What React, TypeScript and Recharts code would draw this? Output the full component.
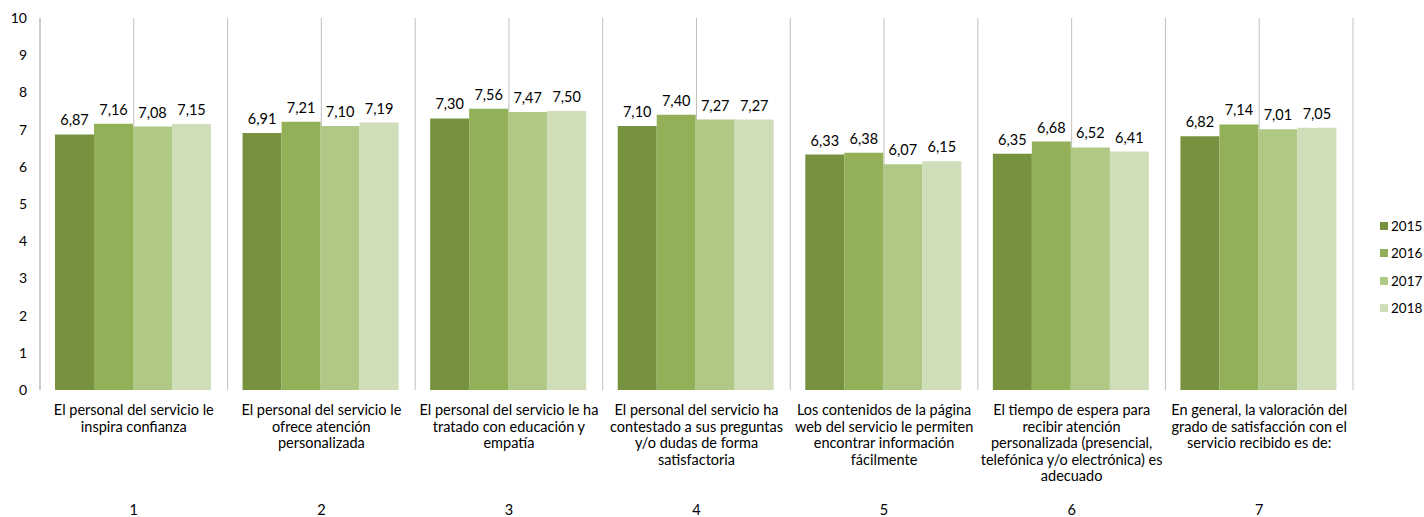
import { BarChart, Bar, XAxis, YAxis, CartesianGrid, LabelList } from 'recharts';

const categories = [
  'El personal del servicio le\ninspira confianza',
  'El personal del servicio le\nofrece atención\npersonalizada',
  'El personal del servicio le ha\ntratado con educación y\nempatía',
  'El personal del servicio ha\ncontestado a sus preguntas\ny/o dudas de forma\nsatisfactoria',
  'Los contenidos de la página\nweb del servicio le permiten\nencontrar información\nfácilmente',
  'El tiempo de espera para\nrecibir atención\npersonalizada (presencial,\ntelefónica y/o electrónica) es\nadecuado',
  'En general, la valoración del\ngrado de satisfacción con el\nservicio recibido es de:',
];
const groupNumbers = ['1', '2', '3', '4', '5', '6', '7'];

const v2015 = [6.87, 6.91, 7.3, 7.1, 6.33, 6.35, 6.82];
const v2016 = [7.16, 7.21, 7.56, 7.4, 6.38, 6.68, 7.14];
const v2017 = [7.08, 7.1, 7.47, 7.27, 6.07, 6.52, 7.01];
const v2018 = [7.15, 7.19, 7.5, 7.27, 6.15, 6.41, 7.05];

const yTicks = [0, 1, 2, 3, 4, 5, 6, 7, 8, 9, 10];

const series = [
  { key: 'y2015', name: '2015', color: '#77923f' },
  { key: 'y2016', name: '2016', color: '#92b058' },
  { key: 'y2017', name: '2017', color: '#afc886' },
  { key: 'y2018', name: '2018', color: '#cfddb8' },
];

const data = categories.map((c, i) => ({
  idx: i,
  y2015: v2015[i],
  y2016: v2016[i],
  y2017: v2017[i],
  y2018: v2018[i],
}));

const FONT = 'Lato, "Open Sans", sans-serif';

const fmt = (v: any) => Number(v).toFixed(2).replace('.', ',');

const CategoryTick = (props: any) => {
  const { x, y, payload } = props;
  const i = payload.index;
  const lines = categories[i].split('\n');
  return (
    <g>
      <text x={x} y={y + 25} textAnchor="middle" fontSize={14.5} fill="#000" fontFamily={FONT}>
        {lines.map((l, j) => (
          <tspan key={j} x={x} dy={j === 0 ? 0 : 16.5}>{l}</tspan>
        ))}
      </text>
      <text x={x} y={y + 125} textAnchor="middle" fontSize={14.5} fill="#000" fontFamily={FONT}>
        {groupNumbers[i]}
      </text>
    </g>
  );
};

// grid lines at every group boundary and every group centre
const gridX = ({ offset }: any) => {
  const n = categories.length;
  const band = offset.width / n;
  const out: number[] = [];
  for (let i = 0; i <= n; i++) out.push(offset.left + i * band);
  for (let i = 0; i < n; i++) out.push(offset.left + (i + 0.5) * band);
  return out;
};

export default function App() {
  return (
    <div style={{ position: 'absolute', left: 0, top: 0, width: 1424, height: 517, background: '#fff', overflow: 'hidden' }}>
      <BarChart
        width={1424}
        height={517}
        data={data}
        margin={{ top: 18, right: 71, bottom: 0, left: 0 }}
        barCategoryGap="8%"
        barGap={0}
      >
        <CartesianGrid horizontal={false} stroke="#bfbfbf" verticalCoordinatesGenerator={gridX} />
        <XAxis
          dataKey="idx"
          height={127}
          axisLine={false}
          tickLine={false}
          tickSize={0}
          tickMargin={0}
          interval={0}
          tick={<CategoryTick />}
        />
        <YAxis
          width={40}
          domain={[0, 10]}
          ticks={yTicks}
          interval={0}
          axisLine={{ stroke: '#bfbfbf' }}
          tickLine={false}
          tickSize={0}
          tickMargin={13}
          tick={{ fontSize: 14, fill: '#000', fontFamily: FONT }}
        />
        {series.map((s) => (
          <Bar key={s.key} dataKey={s.key} name={s.name} fill={s.color} isAnimationActive={false}>
            <LabelList
              dataKey={s.key}
              position="top"
              offset={9}
              formatter={fmt}
              style={{ fontSize: 14.5, fill: '#000', fontFamily: FONT }}
            />
          </Bar>
        ))}
      </BarChart>
      <div style={{ position: 'absolute', left: 1380, top: 212, fontFamily: FONT, fontSize: 13.5, color: '#000', whiteSpace: 'nowrap' }}>
        {series.map((s) => (
          <div key={s.key} style={{ display: 'flex', alignItems: 'center', height: 27.5 }}>
            <span style={{ width: 8, height: 8, background: s.color, marginRight: 3, display: 'inline-block', flex: 'none' }} />
            <span>{s.name}</span>
          </div>
        ))}
      </div>
    </div>
  );
}
